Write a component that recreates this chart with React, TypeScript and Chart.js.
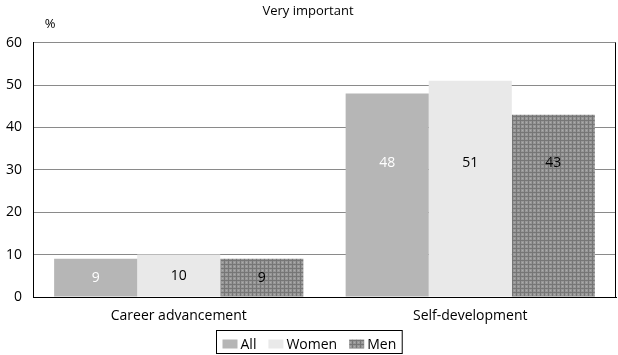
import React, { useEffect, useRef } from "react";
import { Chart, registerables } from "chart.js";

Chart.register(...registerables);

const categories = ["Career advancement", "Self-development"];
const seriesNames = ["All", "Women", "Men"];
const allValues = [9, 48];
const womenValues = [10, 51];
const menValues = [9, 43];
const yTicks = [0, 10, 20, 30, 40, 50, 60];
const labelColors = ["#ffffff", "#000000", "#000000"];
const FONT = "'Open Sans', 'Noto Sans', sans-serif";

function makeMenPattern(): CanvasPattern | string {
  const c = document.createElement("canvas");
  c.width = 4;
  c.height = 4;
  const ctx = c.getContext("2d");
  if (!ctx) return "#8c8c8c";
  ctx.fillStyle = "#979797";
  ctx.fillRect(0, 0, 4, 4);
  ctx.fillStyle = "#767676";
  ctx.fillRect(0, 0, 1, 4);
  ctx.fillRect(0, 0, 4, 1);
  ctx.fillStyle = "#acacac";
  ctx.fillRect(2, 2, 1, 1);
  const p = ctx.createPattern(c, "repeat");
  return p || "#8c8c8c";
}

const extras = {
  id: "extras",
  afterDraw(chart: any) {
    const { ctx, chartArea } = chart;
    ctx.save();
    // right border of plot
    ctx.strokeStyle = "#000";
    ctx.lineWidth = 1;
    ctx.beginPath();
    ctx.moveTo(chartArea.right - 0.5, chartArea.top);
    ctx.lineTo(chartArea.right - 0.5, chartArea.bottom);
    ctx.stroke();
    // % label
    ctx.fillStyle = "#000";
    ctx.font = `13px ${FONT}`;
    ctx.textAlign = "center";
    ctx.textBaseline = "middle";
    ctx.fillText("%", chartArea.left + 17, 24);
    // bar value labels
    const yScale = chart.scales.y;
    ctx.font = `14px ${FONT}`;
    chart.data.datasets.forEach((ds: any, i: number) => {
      const meta = chart.getDatasetMeta(i);
      meta.data.forEach((bar: any, j: number) => {
        const v = ds.data[j];
        const yv = v > 20 ? 31.5 : v / 2;
        ctx.fillStyle = labelColors[i];
        ctx.fillText(String(v), bar.x, yScale.getPixelForValue(yv));
      });
    });
    // custom legend
    ctx.font = `14px ${FONT}`;
    ctx.textAlign = "left";
    const boxW = 15;
    const boxH = 9;
    const gapBoxText = 3;
    const gapItems = 12;
    const items = chart.data.datasets.map((ds: any) => ({
      label: ds.label,
      fill: ds.backgroundColor,
      w: boxW + gapBoxText + ctx.measureText(ds.label).width,
    }));
    const innerW = items.reduce((a: number, it: any) => a + it.w, 0) + gapItems * (items.length - 1);
    const padX = 6;
    const totalW = innerW + padX * 2;
    const x0 = Math.round((chart.width - totalW) / 2) + 0.5;
    const y0 = 330.5;
    const h = 23;
    ctx.strokeStyle = "#000";
    ctx.strokeRect(x0, y0, totalW, h);
    let x = x0 + padX;
    const cy = 344;
    items.forEach((it: any) => {
      ctx.fillStyle = it.fill;
      ctx.fillRect(x, cy - boxH / 2, boxW, boxH);
      ctx.fillStyle = "#000";
      ctx.fillText(it.label, x + boxW + gapBoxText, cy + 1);
      x += it.w + gapItems;
    });
    ctx.restore();
  },
};

export default function App() {
  const ref = useRef<HTMLCanvasElement | null>(null);
  useEffect(() => {
    document.body.style.margin = "0";
    const canvas = ref.current;
    if (!canvas) return;
    const menFill = makeMenPattern();
    const chart = new Chart(canvas, {
      type: "bar",
      data: {
        labels: categories,
        datasets: [
          { label: seriesNames[0], data: allValues, backgroundColor: "#b6b6b6" },
          { label: seriesNames[1], data: womenValues, backgroundColor: "#e9e9e9" },
          { label: seriesNames[2], data: menValues, backgroundColor: menFill as any },
        ],
      },
      plugins: [extras],
      options: {
        responsive: false,
        animation: false,
        layout: { padding: { left: 0, right: 2, top: 0, bottom: 22 } },
        datasets: { bar: { categoryPercentage: 0.855, barPercentage: 1 } },
        plugins: {
          title: {
            display: true,
            text: "Very important",
            color: "#000",
            font: { family: FONT, size: 13, weight: "normal" },
            padding: { top: 3, bottom: 24 },
          },
          legend: { display: false },
          tooltip: { enabled: false },
        },
        scales: {
          x: {
            grid: { display: false, drawTicks: false },
            border: { color: "#000" },
            ticks: { color: "#000", font: { family: FONT, size: 14 }, padding: 11 },
            afterFit: (s: any) => {
              s.height = 36;
            },
          },
          y: {
            min: 0,
            max: 60,
            afterBuildTicks: (s: any) => {
              s.ticks = yTicks.map((v) => ({ value: v }));
            },
            grid: { color: "#8a8a8a", drawTicks: false },
            border: { color: "#000" },
            ticks: { color: "#000", font: { family: FONT, size: 14 }, padding: 11 },
            afterFit: (s: any) => {
              s.width = 33;
            },
          },
        },
      },
    });
    return () => chart.destroy();
  }, []);
  return (
    <div style={{ position: "absolute", left: 0, top: 0, width: 618, height: 355, background: "#fff" }}>
      <canvas ref={ref} width={618} height={355} style={{ width: 618, height: 355 }} />
    </div>
  );
}
